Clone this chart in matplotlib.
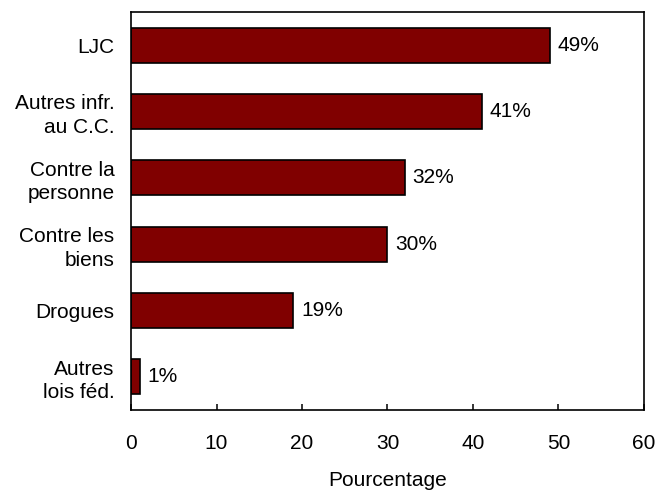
import matplotlib
matplotlib.use("Agg")
import matplotlib.pyplot as plt

categories = ["LJC", "Autres infr.\nau C.C.", "Contre la\npersonne", "Contre les\nbiens", "Drogues", "Autres\nlois féd."]
values = [49, 41, 32, 30, 19, 1]
xticks = [0, 10, 20, 30, 40, 50, 60]

plt.rcParams['font.family'] = ['Liberation Sans', 'DejaVu Sans']
FS = 15

fig = plt.figure(figsize=(6.57, 4.91), dpi=100)
ax = fig.add_axes([0.1994, 0.165, 0.7808, 0.8106])

ypos = list(range(len(categories)))
ax.barh(ypos, values, height=0.53, color="#800000", edgecolor="black", linewidth=1.2)
for y, v in zip(ypos, values):
    ax.text(v + 0.9, y, f"{v}%", va="center", ha="left", fontsize=FS)

ax.set_ylim(len(categories) - 0.5, -0.5)
ax.set_xlim(0, 60)
ax.set_yticks(ypos)
ax.set_yticklabels(categories, fontsize=FS, linespacing=1.3, ha="right")
ax.set_xticks(xticks)
ax.set_xticklabels([str(t) for t in xticks], fontsize=FS)
ax.tick_params(axis="y", length=0, pad=12)
ax.tick_params(axis="x", direction="in", length=4.5, width=1.1, pad=17)
for s in ax.spines.values():
    s.set_linewidth(1.2)
ax.set_xlabel("Pourcentage", fontsize=FS, labelpad=13)

fig.savefig("out.png", dpi=100)
